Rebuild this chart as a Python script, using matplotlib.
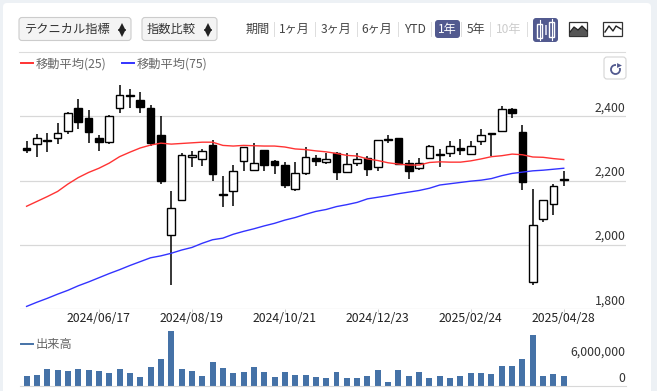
import matplotlib
matplotlib.use('Agg')
import matplotlib.pyplot as plt
from matplotlib.patches import FancyBboxPatch, Rectangle

plt.rcParams['font.family'] = ['Noto Sans CJK JP', 'DejaVu Sans']

# weekly candles
opens = [2302, 2313, 2326, 2332, 2353, 2425, 2394, 2332, 2321, 2425, 2465, 2451, 2425, 2341, 2030, 2139, 2273, 2266,
         2310, 2158, 2167, 2260, 2232, 2294, 2260, 2248, 2173, 2223, 2269, 2257, 2285, 2226, 2254, 2269, 2241, 2329,
         2332, 2254, 2238, 2269, 2282, 2285, 2301, 2282, 2322, 2347, 2353, 2422, 2350, 1884, 2080, 2126, 2204]
closes = [2296, 2332, 2324, 2346, 2409, 2383, 2352, 2321, 2400, 2465, 2461, 2427, 2318, 2200, 2116, 2279, 2279, 2291,
          2219, 2154, 2231, 2304, 2254, 2247, 2248, 2185, 2222, 2272, 2262, 2266, 2225, 2251, 2266, 2237, 2325, 2325,
          2251, 2231, 2254, 2307, 2279, 2307, 2294, 2307, 2341, 2344, 2422, 2409, 2195, 2061, 2139, 2182, 2201]
highs = [2324, 2344, 2347, 2378, 2412, 2453, 2419, 2341, 2402, 2496, 2484, 2475, 2434, 2400, 2167, 2285, 2291, 2297,
         2325, 2214, 2248, 2304, 2316, 2296, 2263, 2256, 2257, 2304, 2279, 2284, 2288, 2284, 2284, 2276, 2325, 2341,
         2332, 2263, 2269, 2310, 2297, 2322, 2329, 2322, 2360, 2347, 2431, 2425, 2372, 2173, 2139, 2189, 2228]
lows = [2284, 2273, 2288, 2313, 2344, 2360, 2316, 2293, 2313, 2411, 2425, 2411, 2308, 2188, 1874, 2139, 2241, 2244,
        2200, 2117, 2120, 2229, 2229, 2229, 2220, 2176, 2167, 2216, 2244, 2250, 2203, 2226, 2245, 2214, 2229, 2315,
        2251, 2204, 2232, 2269, 2241, 2273, 2279, 2279, 2310, 2276, 2353, 2394, 2170, 1874, 2070, 2092, 2182]

ma25 = [2120, 2135, 2150, 2166, 2189, 2209, 2225, 2238, 2254, 2274, 2288, 2301, 2310, 2316, 2313, 2315, 2317, 2319,
        2319, 2309, 2307, 2309, 2308, 2307, 2307, 2304, 2298, 2296, 2292, 2289, 2284, 2278, 2276, 2267, 2262, 2255,
        2251, 2248, 2248, 2256, 2258, 2257, 2257, 2261, 2267, 2274, 2277, 2282, 2280, 2273, 2272, 2268, 2265]
ma75 = [1809, 1822, 1834, 1847, 1859, 1873, 1885, 1898, 1911, 1923, 1936, 1948, 1960, 1966, 1974, 1984, 1992, 2005,
        2016, 2021, 2033, 2042, 2050, 2059, 2067, 2077, 2085, 2095, 2104, 2110, 2119, 2125, 2132, 2143, 2148, 2153,
        2159, 2164, 2169, 2176, 2186, 2190, 2194, 2198, 2201, 2206, 2215, 2222, 2226, 2230, 2232, 2235, 2238]
volume = [2.30, 2.54, 3.92, 3.69, 3.46, 3.92, 3.69, 3.46, 3.00, 3.92, 3.00, 2.08, 4.38, 6.23, 12.69, 3.92, 3.46, 2.30,
          5.54, 4.15, 3.00, 3.23, 4.38, 3.23, 2.08, 3.23, 2.54, 2.54, 2.08, 1.85, 3.23, 1.85, 1.85, 2.30, 3.69, 0.92,
          3.69, 2.30, 3.23, 1.85, 2.30, 1.85, 2.30, 3.00, 3.00, 2.77, 4.62, 4.62, 6.23, 11.77, 2.30, 2.77, 2.30]

x_ticks = [7, 16, 25, 34, 43, 52]
x_labels = ['2024/06/17', '2024/08/19', '2024/10/21', '2024/12/23', '2025/02/24', '2025/04/28']
price_ticks = [1800, 2000, 2200, 2400]
vol_ticks = [0, 6]
vol_labels = ['0', '6,000,000']
periods = ['期間', '1ヶ月', '3ヶ月', '6ヶ月', 'YTD', '1年', '5年', '10年']
period_x = [258, 294, 336, 377, 415, 447, 476, 509]
period_seps = [274, 315, 357, 398, 431, 461, 490, 527]

W, H = 657, 391
fig = plt.figure(figsize=(W / 100, H / 100), dpi=100, facecolor='#edf1f5')


def px_axes(left, top, right, bottom, **kw):
    return fig.add_axes([left / W, 1 - bottom / H, (right - left) / W, (bottom - top) / H], **kw)


# page card and toolbar, in pixel coordinates
ui = px_axes(0, 0, W, H)
ui.set_xlim(0, W)
ui.set_ylim(H, 0)
ui.axis('off')
ui.add_patch(FancyBboxPatch((3, 3), 648, 400, boxstyle='round,pad=0,rounding_size=4', fc='white', ec='none'))


def button(x0, y0, x1, y1, fc, ec, r=3):
    ui.add_patch(FancyBboxPatch((x0, y0), x1 - x0, y1 - y0, boxstyle=f'round,pad=0,rounding_size={r}',
                                fc=fc, ec=ec, lw=0.8))


def updown(x, y):
    ui.plot([x], [y - 3], marker='^', ms=5.5, color='#222222', mew=0)
    ui.plot([x], [y + 3], marker='v', ms=5.5, color='#222222', mew=0)


button(19, 17.5, 131, 40.5, '#f4f4f4', '#cccccc')
button(142, 17.5, 217, 40.5, '#f4f4f4', '#cccccc')
ui.text(25, 29.5, 'テクニカル指標', fontsize=8.8, color='#333333', va='center')
ui.text(147, 29.5, '指数比較', fontsize=8.8, color='#333333', va='center')
updown(122, 30)
updown(208, 30)

button(435, 20, 460, 38, '#525a8f', 'none')
for x, s in zip(period_x, periods):
    c = '#ffffff' if s == '1年' else '#cccccc' if s == '10年' else '#444444'
    ui.text(x, 29.5, s, fontsize=8.7, color=c, ha='center', va='center')
for x in period_seps:
    ui.plot([x, x], [22, 36], color='#dddddd', lw=0.7)

# chart type icons
button(533, 18, 558, 42, '#525a8f', 'none')
ui.add_patch(Rectangle((537, 24), 5, 14, fc='none', ec='white', lw=1))
ui.add_patch(Rectangle((549, 22), 5, 15, fc='none', ec='white', lw=1))
ui.plot([539.5, 539.5], [20, 40], color='white', lw=0.8)
ui.plot([551.5, 551.5], [19, 40], color='white', lw=0.8)
ui.add_patch(Rectangle((545, 25), 2, 10, fc='#c9cbe0', ec='none'))
ui.add_patch(Rectangle((569, 22), 18, 14, fc='none', ec='#333333', lw=0.9))
ui.fill([570, 574, 578, 582, 587, 587, 570], [32, 27, 30, 26, 31, 36, 36], color='#555555', lw=0)
ui.plot([570, 574, 578, 582, 587], [32, 27, 30, 26, 31], color='#222222', lw=0.9)
ui.add_patch(Rectangle((603, 22), 19, 14, fc='none', ec='#333333', lw=0.9))
ui.plot([605, 609, 613, 616, 621], [32, 26, 31, 26, 29], color='#222222', lw=1)

ui.plot([19, 625], [52, 52], color='#dcdcdc', lw=0.8)

# legend
ui.plot([21, 33], [62.5, 62.5], color='#ff3333', lw=1.4)
ui.text(36, 64, '移動平均(25)', fontsize=8.8, color='#666666', va='center')
ui.plot([122, 134], [62.5, 62.5], color='#3333ff', lw=1.4)
ui.text(137, 64, '移動平均(75)', fontsize=8.8, color='#666666', va='center')
ui.plot([21, 33], [343.5, 343.5], color='#4572a7', lw=1.4)
ui.text(36, 344.5, '出来高', fontsize=8.8, color='#666666', va='center')

# refresh button
button(604, 57, 626, 79, '#ffffff', '#d5d5d5')
ui.plot([615], [68.5], marker='o', ms=6.5, mfc='none', mec='#525a8f', mew=1.3)
ui.add_patch(Rectangle((615.5, 63), 5, 5, fc='white', ec='none', zorder=5))
ui.plot([619], [65], marker='>', ms=3.5, color='#525a8f', mew=0, zorder=6)

# price panel
ax = px_axes(20, 83.9, 626, 309.3)
ax.patch.set_alpha(0)
xs = list(range(len(opens)))
ax.set_xlim((20 - 26.6) / 10.33, (626 - 26.6) / 10.33)
ax.set_ylim(1800, 2500)
for s in ['top', 'left', 'right', 'bottom']:
    ax.spines[s].set_visible(False)
ax.set_yticks(price_ticks)
ax.set_yticklabels([])
ax.grid(axis='y', color='#d8d8d8', lw=0.9)
ax.set_axisbelow(True)
ax.tick_params(axis='y', length=0)
ax.set_xticks(x_ticks)
ax.set_xticklabels(x_labels, fontsize=8.8, color='#222222')
ax.tick_params(axis='x', length=2, width=0.7, color='#cccccc', pad=0)

ax.vlines(xs, lows, highs, color='black', lw=1.1, zorder=2)
bottoms = [min(o, c) for o, c in zip(opens, closes)]
sizes = [abs(o - c) for o, c in zip(opens, closes)]
colors = ['white' if c > o else 'black' for o, c in zip(opens, closes)]
ax.bar(xs, sizes, bottom=bottoms, width=0.74, color=colors, edgecolor='black', linewidth=1.0, zorder=3)
ax.plot(xs, ma25, color='#ff3333', lw=1.0, zorder=4)
ax.plot(xs, ma75, color='#3333ff', lw=1.0, zorder=4)
for p in price_ticks:
    ax.annotate(f'{p:,}', (1, p), xycoords=('axes fraction', 'data'), xytext=(-0.5, 6), textcoords='offset points',
                ha='right', va='center', fontsize=8.8, color='#333333')

# volume panel
vax = px_axes(20, 330, 626, 386)
vax.patch.set_alpha(0)
vax.set_xlim(ax.get_xlim())
vax.set_ylim(0, 12.92)
for s in ['top', 'left', 'right']:
    vax.spines[s].set_visible(False)
vax.spines['bottom'].set_color('#d8d8d8')
vax.set_xticks([])
vax.set_yticks([])
vax.bar(xs, volume, width=0.58, color='#4572a7')
for v, s in zip(vol_ticks, vol_labels):
    vax.annotate(s, (1, v), xycoords=('axes fraction', 'data'), xytext=(-0.5, 5.5), textcoords='offset points',
                 ha='right', va='center', fontsize=8.8, color='#333333')

fig.savefig('out.png', dpi=100, facecolor=fig.get_facecolor())
